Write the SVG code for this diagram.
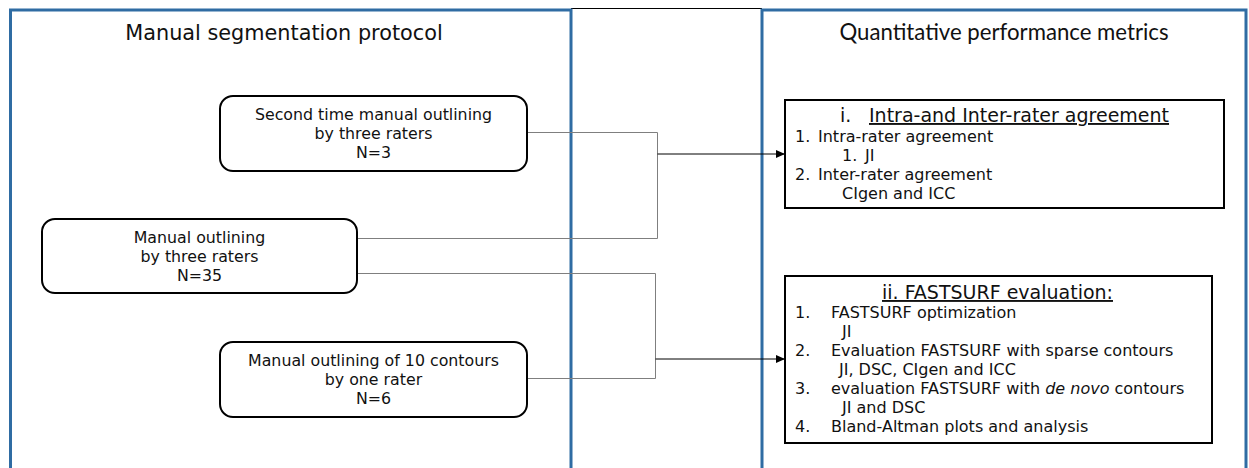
<svg xmlns="http://www.w3.org/2000/svg" width="1249" height="468" viewBox="0 0 1249 468">
<style>
.panel{fill:none;stroke:#2f6ca3;stroke-width:3}
.node rect{fill:#fff;stroke:#000;stroke-width:2}
.box rect{fill:#fff;stroke:#000;stroke-width:2}
text{font-family:"DejaVu Sans",Verdana,sans-serif;fill:#111}
.nt{font-size:15.8px;text-anchor:middle}
.bt{font-size:16px}
.tt{font-size:19px}
.grey{fill:none;stroke:#7f7f7f;stroke-width:1}
.arr{fill:none;stroke:#000;stroke-width:1;marker-end:url(#ah)}
</style>
<defs>
<marker id="ah" markerWidth="9" markerHeight="8" refX="9" refY="4" orient="auto" markerUnits="userSpaceOnUse">
<path d="M0,0 L9,4 L0,8 Z" fill="#000"/>
</marker>
</defs>
<rect width="1249" height="468" fill="#fff"/>
<g id="panels">
<line x1="571" y1="8.5" x2="762" y2="8.5" stroke="#000" stroke-width="1"/>
<rect class="panel" x="10.5" y="10" width="560.5" height="480"/>
<rect class="panel" x="762" y="10" width="484" height="480"/>
<text x="284" y="40" style="font-size:20.8px" text-anchor="middle">Manual segmentation protocol</text>
<text x="1004" y="40" style="font-family:Lato,'Open Sans',sans-serif;font-size:22.2px" text-anchor="middle">Quantitative performance metrics</text>
</g>
<g id="connectors">
<path class="grey" d="M528,132.5 H657.5 V238.5 H357"/>
<path class="grey" d="M357,273.5 H655.5 V378.5 H528"/>
<path class="arr" d="M657.5,154 H785"/>
<path class="arr" d="M655.5,359 H785"/>
</g>
<g id="node1" class="node">
<rect x="220" y="96" width="307" height="75" rx="13"/>
<text class="nt" x="373.5" y="120">Second time manual outlining</text>
<text class="nt" x="373.5" y="139">by three raters</text>
<text class="nt" x="373.5" y="158">N=3</text>
</g>
<g id="node2" class="node">
<rect x="42" y="219" width="315" height="74" rx="13"/>
<text class="nt" x="199.5" y="243">Manual outlining</text>
<text class="nt" x="199.5" y="262">by three raters</text>
<text class="nt" x="199.5" y="281">N=35</text>
</g>
<g id="node3" class="node">
<rect x="220" y="342" width="307" height="75" rx="13"/>
<text class="nt" x="373.5" y="366">Manual outlining of 10 contours</text>
<text class="nt" x="373.5" y="385">by one rater</text>
<text class="nt" x="373.5" y="404">N=6</text>
</g>
<g id="box1" class="box">
<rect x="785" y="100" width="439" height="108"/>
<text class="tt" x="840" y="122">i.</text>
<text class="tt" x="869" y="122" text-decoration="underline">Intra-and Inter-rater agreement</text>
<text class="bt" x="795" y="142">1.</text>
<text class="bt" x="818" y="142">Intra-rater agreement</text>
<text class="bt" x="842" y="161">1.</text>
<text class="bt" x="865" y="161">JI</text>
<text class="bt" x="795" y="180">2.</text>
<text class="bt" x="818" y="180">Inter-rater agreement</text>
<text class="bt" x="842" y="199">CIgen and ICC</text>
</g>
<g id="box2" class="box">
<rect x="785" y="276" width="427" height="167"/>
<text class="tt" x="997.5" y="299" text-anchor="middle" text-decoration="underline">ii. FASTSURF evaluation:</text>
<text class="bt" x="795" y="318">1.</text>
<text class="bt" x="831" y="318">FASTSURF optimization</text>
<text class="bt" x="842" y="337">JI</text>
<text class="bt" x="795" y="356">2.</text>
<text class="bt" x="831" y="356">Evaluation FASTSURF with sparse contours</text>
<text class="bt" x="839" y="375">JI, DSC, CIgen and ICC</text>
<text class="bt" x="795" y="394">3.</text>
<text class="bt" x="831" y="394">evaluation FASTSURF with <tspan font-style="italic">de novo</tspan> contours</text>
<text class="bt" x="842" y="413">JI and DSC</text>
<text class="bt" x="795" y="432">4.</text>
<text class="bt" x="831" y="432">Bland-Altman plots and analysis</text>
</g>
</svg>
